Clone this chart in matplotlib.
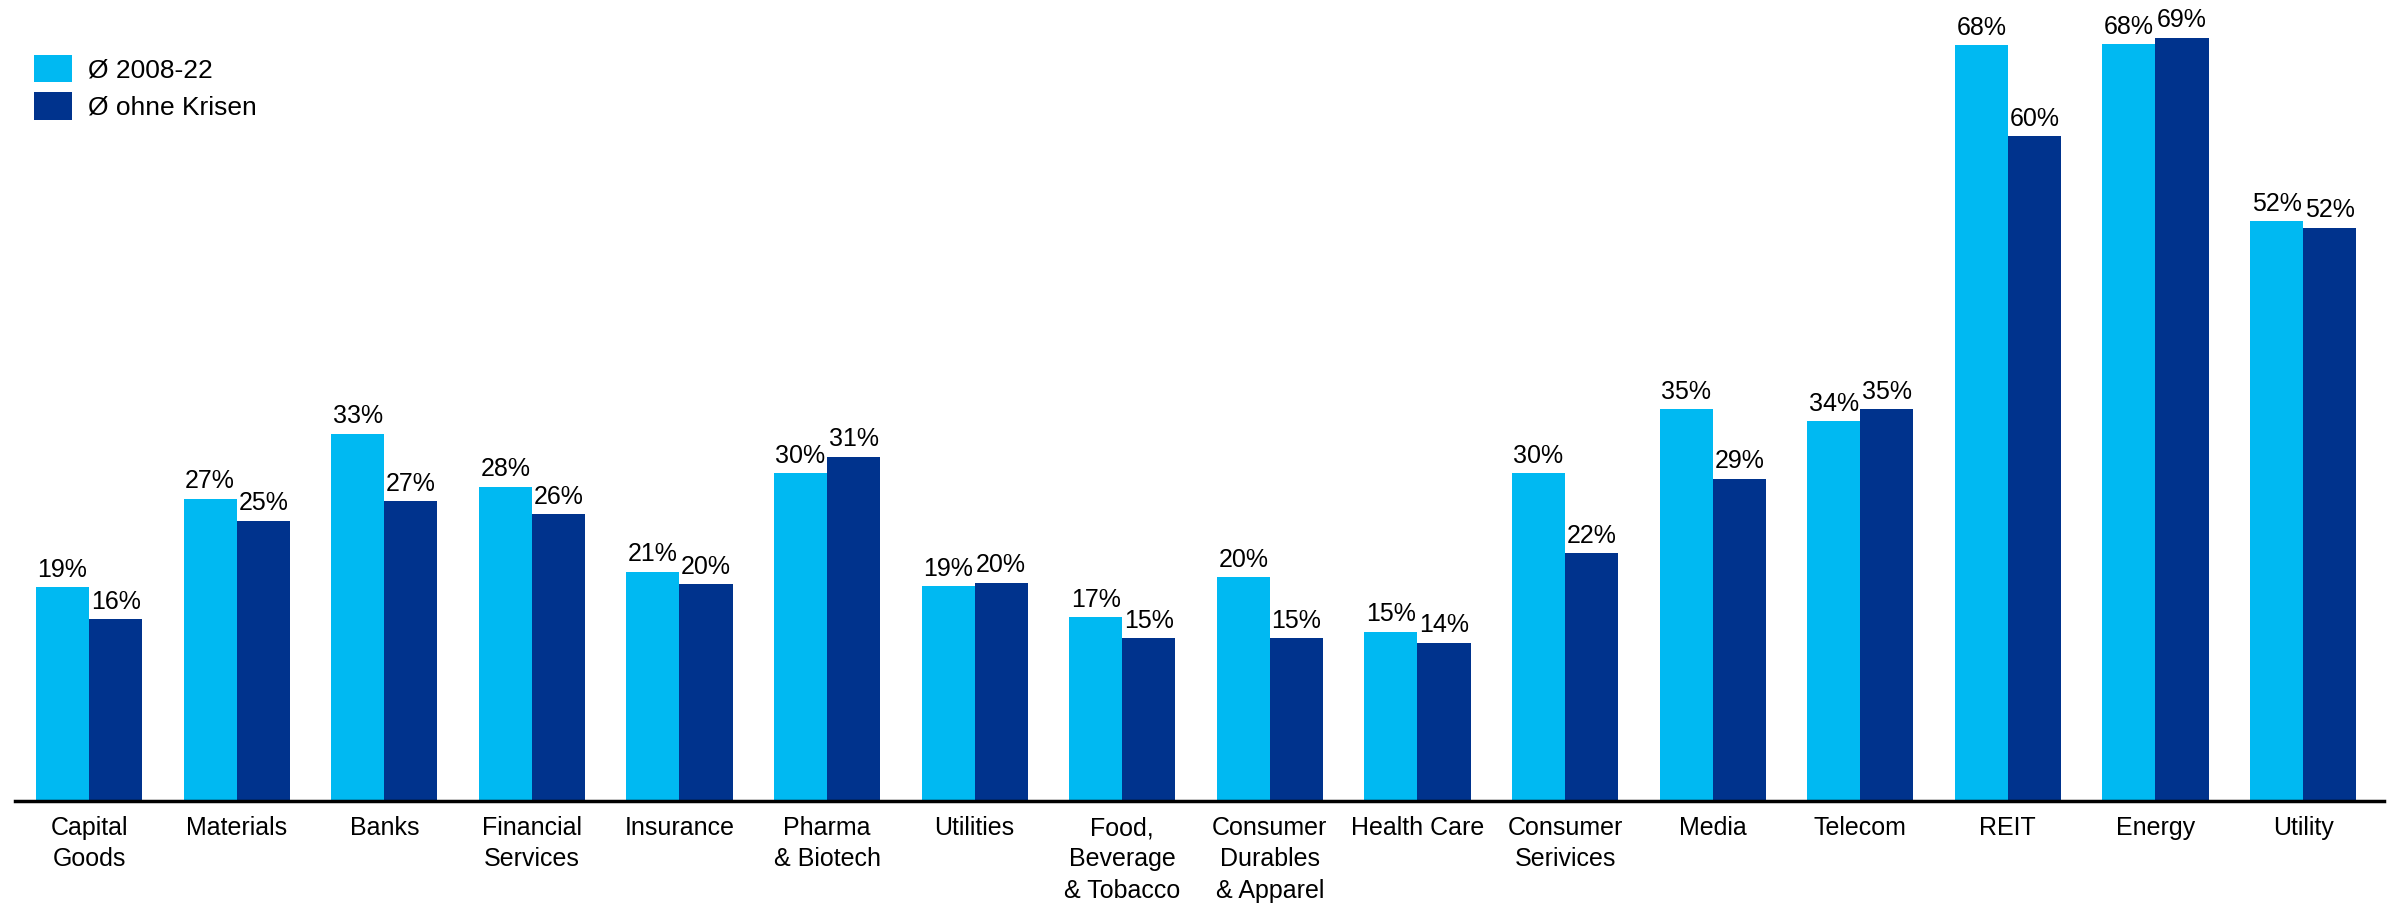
import matplotlib.pyplot as plt
import numpy as np

plt.rcParams['font.family'] = ['Liberation Sans', 'DejaVu Sans']

categories = ["Capital\nGoods", "Materials", "Banks", "Financial\nServices", "Insurance",
              "Pharma\n& Biotech", "Utilities", "Food,\nBeverage\n& Tobacco",
              "Consumer\nDurables\n& Apparel", "Health Care", "Consumer\nSerivices",
              "Media", "Telecom", "REIT", "Energy", "Utility"]
avg_2008_22 = [19.3, 27.3, 33.2, 28.4, 20.7, 29.6, 19.4, 16.6, 20.2, 15.3, 29.6, 35.4, 34.3, 68.3, 68.4, 52.4]
avg_no_crisis = [16.4, 25.3, 27.1, 25.9, 19.6, 31.1, 19.7, 14.7, 14.7, 14.3, 22.4, 29.1, 35.4, 60.1, 69.0, 51.8]
series_names = ["Ø 2008-22", "Ø ohne Krisen"]

light = "#00B9F2"
dark = "#00338D"

fig = plt.figure(figsize=(23.89, 9.06), dpi=100)
ax = fig.add_axes([0.0064, 0.116, 0.9916, 0.884])

x = np.arange(len(categories))
w = 0.36
b1 = ax.bar(x - w / 2, avg_2008_22, w, color=light, label=series_names[0])
b2 = ax.bar(x + w / 2, avg_no_crisis, w, color=dark, label=series_names[1])

for bars in (b1, b2):
    ax.bar_label(bars, labels=[f"{v:.0f}%" for v in bars.datavalues],
                 padding=4, fontsize=18)

ax.set_xlim(-0.5, 15.55)
ax.set_ylim(0, 72.4)
ax.set_xticks(x)
ax.set_xticklabels(categories, fontsize=18, linespacing=1.38)
ax.tick_params(axis="x", length=0, pad=11)
ax.set_yticks([])
for s in ("top", "right", "left"):
    ax.spines[s].set_visible(False)
ax.spines["bottom"].set_linewidth(2.5)

ax.legend(loc="upper left", bbox_to_anchor=(0.0, 0.955), frameon=False, fontsize=19,
          handlelength=1.45, handleheight=1.25, handletextpad=0.6, labelspacing=0.35,
          borderaxespad=0.3)

fig.savefig("out.png", dpi=100)
